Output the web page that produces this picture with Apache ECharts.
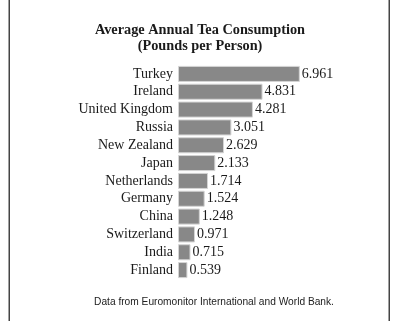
<!DOCTYPE html>
<html>
<head>
<meta charset="utf-8">
<script src="https://cdn.jsdelivr.net/npm/echarts@6/dist/echarts.min.js"></script>
<style>html,body{margin:0;padding:0;background:#fff;}#c{width:400px;height:321px;}</style>
</head>
<body>
<div id="c"></div>
<script>
const countries = ["Turkey","Ireland","United Kingdom","Russia","New Zealand","Japan","Netherlands","Germany","China","Switzerland","India","Finland"];
const pounds = [6.961,4.831,4.281,3.051,2.629,2.133,1.714,1.524,1.248,0.971,0.715,0.539];
const titleText = "Average Annual Tea Consumption\n(Pounds per Person)";
const sourceText = "Data from Euromonitor International and World Bank.";

const chart = echarts.init(document.getElementById('c'), null, {renderer:'canvas'});
const serif = '"Liberation Serif","DejaVu Serif",serif';
chart.setOption({
  animation:false,
  backgroundColor:'#fff',
  title:{
    text:titleText, left:'center', top:17,
    textStyle:{fontFamily:serif, fontWeight:'bold', fontSize:14.3, lineHeight:16, color:'#1a1a1a'}
  },
  grid:{left:178, top:65, width:122.5, height:214},
  xAxis:{type:'value', min:0, max:7, show:false},
  yAxis:{
    type:'category', data:countries, inverse:true,
    axisLine:{show:false}, axisTick:{show:false},
    axisLabel:{interval:0, fontFamily:serif, fontSize:14, color:'#1a1a1a', margin:5}
  },
  series:[{
    type:'bar', data:pounds, barCategoryGap:'10%',
    itemStyle:{color:'#888888', borderColor:'#d4d4d4', borderWidth:1},
    label:{show:true, position:'right', distance:2, fontFamily:serif, fontSize:14, color:'#1a1a1a',
      formatter:p=>p.value.toFixed(3)}
  }],
  graphic:[
    {type:'rect', shape:{x:8.5, y:0, width:1.5, height:321}, style:{fill:'#444'}},
    {type:'rect', shape:{x:388.5, y:0, width:1.5, height:321}, style:{fill:'#444'}},
    {type:'text', x:214, y:302, style:{text:sourceText, fontFamily:'"Liberation Sans",sans-serif', fontSize:10.2, fill:'#222', textAlign:'center', textVerticalAlign:'middle'}}
  ]
});
</script>
</body>
</html>
